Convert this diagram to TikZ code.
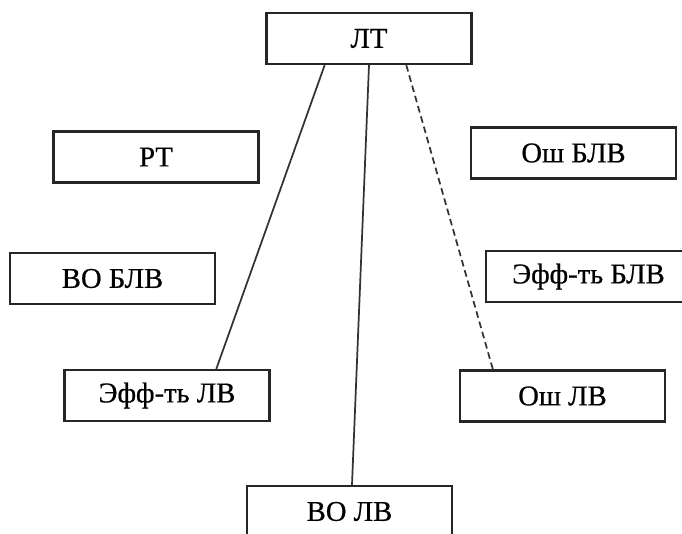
\documentclass[tikz,border=0pt]{standalone}
\usepackage{fontspec}
\setmainfont{Liberation Serif}[FakeBold=0.6]
\usetikzlibrary{calc}
\begin{document}
\begin{tikzpicture}[x=0.75pt,y=-0.75pt,
  box/.style={draw=black!85, line width=1.6pt, minimum width=153.75pt,
    minimum height=38.25pt, inner sep=0pt, font=\fontsize{21.5}{25}\selectfont},
  link/.style={draw=black!80, line width=1.3pt},
  dashlink/.style={link, dash pattern=on 5pt off 3pt}]
\useasboundingbox (0,0) rectangle (682,533);
\clip (0,0) rectangle (682,533);

% boxes
\node[box] (lt)     at (369,38.5)  {ЛТ};
\node[box] (rt)     at (156,157)   {РТ};
\node[box] (oshblv) at (573.5,153) {Ош БЛВ};
\node[box] (voblv)  at (112.5,278.5) {ВО БЛВ};
\node[box] (effblv) at (588.5,276.5) {Эфф-ть БЛВ};
\node[box] (efflv)  at (167,395.5) {Эфф-ть ЛВ};
\node[box] (oshlv)  at (562.5,396) {Ош ЛВ};
\node[box] (volv)   at (349.5,511.5) {ВО ЛВ\hspace{18pt}};

% connectors
\draw[link] ($(lt.south west)!0.286!(lt.south east)$) -- ($(efflv.north west)!0.738!(efflv.north east)$);
\draw[link] (lt.south) -- ($(volv.north west)!0.512!(volv.north east)$);
\draw[dashlink] ($(lt.south west)!0.68!(lt.south east)$) -- ($(oshlv.north west)!0.164!(oshlv.north east)$);
\end{tikzpicture}
\end{document}
